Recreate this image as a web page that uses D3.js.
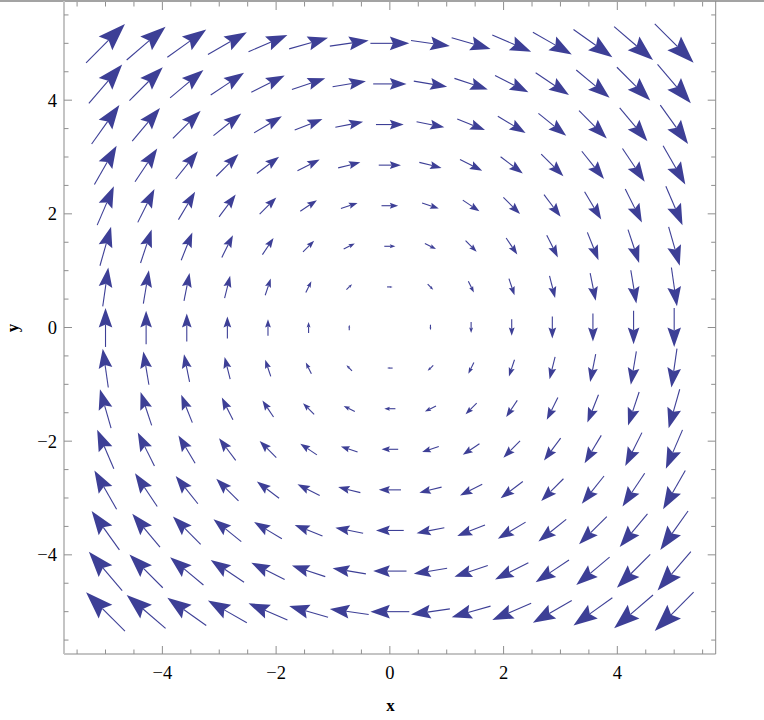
<!DOCTYPE html>
<html>
<head>
<meta charset="utf-8">
<script src="https://cdn.jsdelivr.net/npm/d3@7"></script>
<style>
  body { margin: 0; background: #fff; }
  svg { display: block; }
</style>
</head>
<body>
<svg id="chart" width="764" height="720"></svg>
<script>
// grid of sample points (15 x 15)
const gridX = [-5, -4.286, -3.571, -2.857, -2.143, -1.429, -0.714, 0, 0.714, 1.429, 2.143, 2.857, 3.571, 4.286, 5];
const gridY = [-5, -4.286, -3.571, -2.857, -2.143, -1.429, -0.714, 0, 0.714, 1.429, 2.143, 2.857, 3.571, 4.286, 5];
// horizontal component read per row, vertical component read per column
const uByRow = [-5, -4.286, -3.571, -2.857, -2.143, -1.429, -0.714, 0, 0.714, 1.429, 2.143, 2.857, 3.571, 4.286, 5];
const vByCol = [5, 4.286, 3.571, 2.857, 2.143, 1.429, 0.714, 0, -0.714, -1.429, -2.143, -2.857, -3.571, -4.286, -5];
const majorTicks = [-4, -2, 0, 2, 4];
const minorTicks = [-5.5, -5, -4.5, -3.5, -3, -2.5, -1.5, -1, -0.5, 0.5, 1, 1.5, 2.5, 3, 3.5, 4.5, 5, 5.5];

const svg = d3.select("#chart");
const plotL = 64, plotR = 715.7, plotT = 1, plotB = 654;
const arrowColor = "rgb(61,63,150)";

const x = d3.scaleLinear().domain([-5.73, 5.73]).range([plotL, plotR]);
const y = d3.scaleLinear().domain([-5.745, 5.745]).range([plotB, plotT]);

const vectors = [];
gridY.forEach((gy, i) => {
    gridX.forEach((gx, j) => {
        const u = uByRow[i], v = vByCol[j];
        vectors.push({ x: gx, y: gy, u, v, m: Math.hypot(u, v) });
    });
});
const maxMag = d3.max(vectors, d => d.m);
const len = d3.scaleLinear().domain([0, maxMag]).range([0, 55]);

// top window border
svg.append("rect").attr("x", 0).attr("y", 0).attr("width", 764).attr("height", 2).attr("fill", "#a3a3a3");

// frame
const frame = svg.append("g");
frame.append("line").attr("x1", plotL).attr("x2", plotL).attr("y1", plotT).attr("y2", plotB)
    .attr("stroke", "#c4c4c4").attr("stroke-width", 2);
frame.append("line").attr("x1", plotL).attr("x2", plotR).attr("y1", plotB).attr("y2", plotB)
    .attr("stroke", "#c4c4c4").attr("stroke-width", 2);
frame.append("line").attr("x1", plotR).attr("x2", plotR).attr("y1", plotT).attr("y2", plotB)
    .attr("stroke", "#8c8c8c").attr("stroke-width", 1);

// ticks pointing inwards on all four sides
const tickColor = "#8f8f8f";
const addTicks = (vals, size) => {
    vals.forEach(t => {
        frame.append("line").attr("x1", x(t)).attr("x2", x(t)).attr("y1", plotB).attr("y2", plotB - size).attr("stroke", tickColor);
        frame.append("line").attr("x1", x(t)).attr("x2", x(t)).attr("y1", plotT + 1).attr("y2", plotT + 1 + size).attr("stroke", tickColor);
        frame.append("line").attr("x1", plotL).attr("x2", plotL + size).attr("y1", y(t)).attr("y2", y(t)).attr("stroke", tickColor);
        frame.append("line").attr("x1", plotR).attr("x2", plotR - size).attr("y1", y(t)).attr("y2", y(t)).attr("stroke", tickColor);
    });
};
addTicks(majorTicks, 8);
addTicks(minorTicks, 4.5);

const fmt = d => d < 0 ? "\u2212" + Math.abs(d) : String(d);
const labelFont = "'Liberation Serif', 'Times New Roman', serif";
svg.append("g").selectAll("text").data(majorTicks).join("text")
    .attr("x", d => x(d)).attr("y", 678.5)
    .attr("text-anchor", "middle")
    .attr("font-family", labelFont).attr("font-size", 18.5)
    .text(fmt);
svg.append("g").selectAll("text").data(majorTicks).join("text")
    .attr("x", 57).attr("y", d => y(d) + 6.5)
    .attr("text-anchor", "end")
    .attr("font-family", labelFont).attr("font-size", 18.5)
    .text(fmt);

svg.append("text").attr("x", 390.5).attr("y", 710.5).attr("text-anchor", "middle")
    .attr("font-family", labelFont).attr("font-weight", "bold").attr("font-size", 17).text("x");
svg.append("text").attr("transform", "translate(18,328) rotate(-90)").attr("text-anchor", "middle")
    .attr("font-family", labelFont).attr("font-weight", "bold").attr("font-size", 17).text("y");

// arrows, centred on their sample points
const arrows = svg.append("g");
vectors.filter(d => d.m > 0).forEach(d => {
    const L = len(d.m);
    const dx = d.u / d.m, dy = -d.v / d.m;   // screen direction
    const px = -dy, py = dx;
    const cx = x(d.x), cy = y(d.y);
    const tip = [cx + dx * L / 2, cy + dy * L / 2];
    const tail = [cx - dx * L / 2, cy - dy * L / 2];
    const hl = 0.5 * L, hw = 0.175 * L, notch = 0.42 * L;
    const b = [tip[0] - dx * hl, tip[1] - dy * hl];
    const n = [tip[0] - dx * notch, tip[1] - dy * notch];
    arrows.append("line")
        .attr("x1", tail[0]).attr("y1", tail[1]).attr("x2", n[0]).attr("y2", n[1])
        .attr("stroke", arrowColor).attr("stroke-width", 1.1);
    arrows.append("path")
        .attr("d", d3.line()([tip, [b[0] + px * hw, b[1] + py * hw], n, [b[0] - px * hw, b[1] - py * hw]]) + "Z")
        .attr("fill", arrowColor);
});
</script>
</body>
</html>
